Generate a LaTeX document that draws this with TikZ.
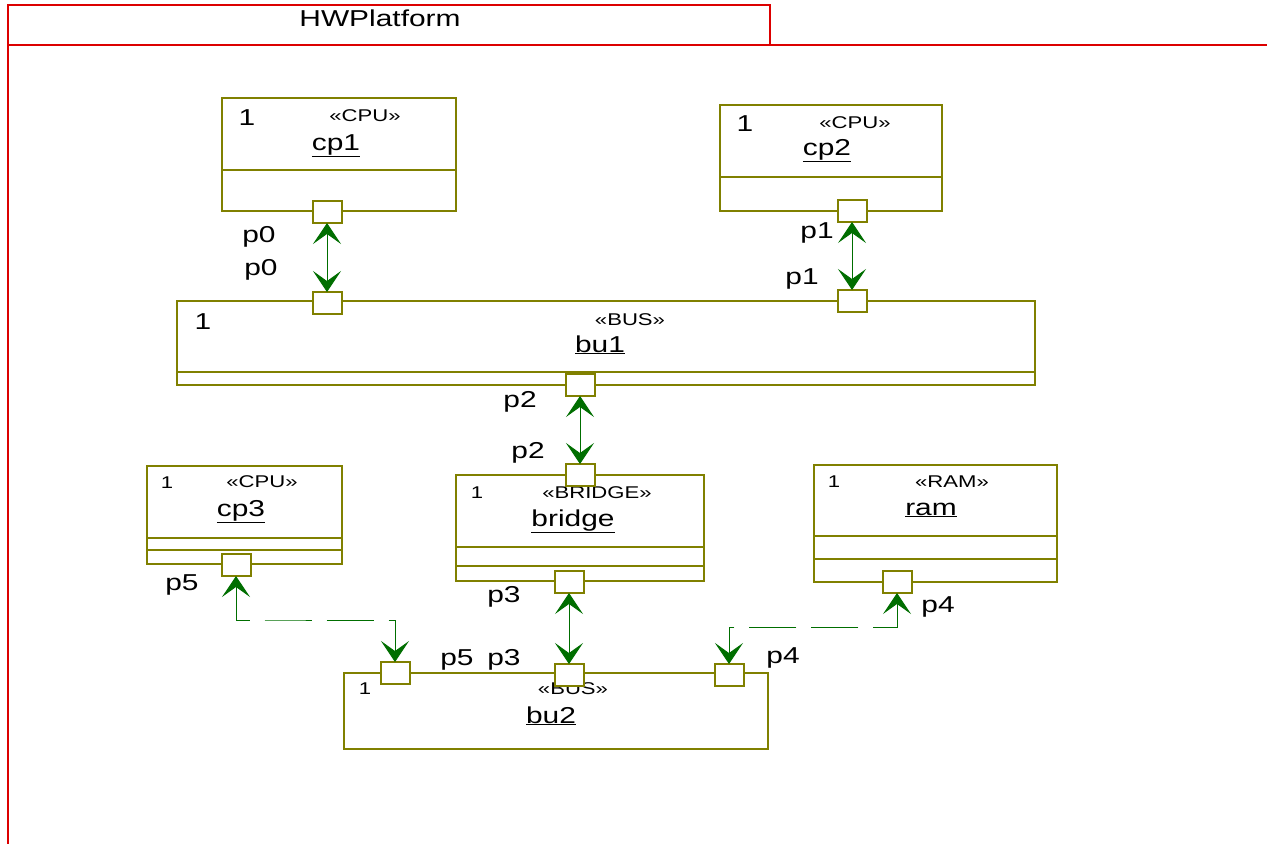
\documentclass[tikz,border=0pt]{standalone}
\usepackage{fontspec}
\setmainfont{Liberation Sans}[FakeStretch=1.3]
\usetikzlibrary{arrows.meta,calc}
\definecolor{boxc}{RGB}{128,128,0}
\definecolor{arrc}{RGB}{0,110,0}
\definecolor{framec}{RGB}{220,0,0}
\tikzset{
  box/.style={draw=boxc, line width=2pt, fill=white, inner sep=0pt, outer sep=0pt, anchor=north west},
  div/.style={draw=boxc, line width=1.5pt},
  port/.style={draw=boxc, line width=2pt, fill=white, minimum width=29pt, minimum height=22pt, inner sep=0pt, outer sep=0pt},
  tip/.tip={Stealth[length=21pt,width=28pt,inset=10pt]},
  link/.style={draw=arrc, line width=1pt, {tip}-{tip}},
  dashlink/.style={link, dash pattern=on 47pt off 15pt},
  framel/.style={draw=framec, line width=2pt},
  big/.style={anchor=base, inner sep=0pt, font=\fontsize{23pt}{23pt}\selectfont},
  small/.style={anchor=base, inner sep=0pt, font=\fontsize{17pt}{17pt}\selectfont},
  title/.style={anchor=base, inner sep=0pt, font=\fontsize{23pt}{23pt}\selectfont},
}
\begin{document}
\begin{tikzpicture}[x=1pt,y=-1pt]
\useasboundingbox (0,0) rectangle (1267,844);
% frame
\node[draw=framec, line width=2pt, inner sep=0pt, outer sep=0pt, anchor=north west, minimum width=762pt, minimum height=40pt] (hdr) at (8,5) {};
\draw[framel] (hdr.south west) -- (1267,45);
\draw[framel] (hdr.north west) -- (8,844);
\node[title] (ttl) at (380,26) {HWPlatform};

% boxes
\node[box, minimum width=234pt, minimum height=113pt] (cp1) at (222,98) {};
\draw[div] ($(cp1.north west)+(0,72)$) -- ($(cp1.north east)+(0,72)$);
\node[box, minimum width=222pt, minimum height=106pt] (cp2) at (720,105) {};
\draw[div] ($(cp2.north west)+(0,72)$) -- ($(cp2.north east)+(0,72)$);
\node[box, minimum width=858pt, minimum height=84pt] (bu1) at (177,301) {};
\draw[div] ($(bu1.north west)+(0,71)$) -- ($(bu1.north east)+(0,71)$);
\node[box, minimum width=195pt, minimum height=98pt] (cp3) at (147,466) {};
\draw[div] ($(cp3.north west)+(0,72)$) -- ($(cp3.north east)+(0,72)$);
\draw[div] ($(cp3.north west)+(0,84)$) -- ($(cp3.north east)+(0,84)$);
\node[box, minimum width=248pt, minimum height=106pt] (bridge) at (456,475) {};
\draw[div] ($(bridge.north west)+(0,72)$) -- ($(bridge.north east)+(0,72)$);
\draw[div] ($(bridge.north west)+(0,91)$) -- ($(bridge.north east)+(0,91)$);
\node[box, minimum width=243pt, minimum height=117pt] (ram) at (814,465) {};
\draw[div] ($(ram.north west)+(0,71)$) -- ($(ram.north east)+(0,71)$);
\draw[div] ($(ram.north west)+(0,94)$) -- ($(ram.north east)+(0,94)$);
\node[box, minimum width=424pt, minimum height=76pt] (bu2) at (344,673) {};

% box texts
\node[big] (t1a) at (247,125) {1};
\node[small] (t1b) at (365,121) {«CPU»};
\node[big] (t1c) at (336,150) {\underline{cp1}};
\node[big] (t2a) at (745,131) {1};
\node[small] (t2b) at (855,128) {«CPU»};
\node[big] (t2c) at (827,155) {\underline{cp2}};
\node[big] (t3a) at (203,329) {1};
\node[small] (t3b) at (630,325) {«BUS»};
\node[big] (t3c) at (600,352) {\underline{bu1}};
\node[small] (t4a) at (167,488) {1};
\node[small] (t4b) at (262,487) {«CPU»};
\node[big] (t4c) at (241,516) {\underline{cp3}};
\node[small] (t6a) at (834,487) {1};
\node[small] (t6b) at (952,487) {«RAM»};
\node[big] (t6c) at (931,515) {\underline{ram}};

% ports
\node[port] (cp1p0) at (327,212) {};
\node[port] (bu1p0) at (327,303) {};
\node[port] (cp2p1) at (852,211) {};
\node[port] (bu1p1) at (852,301) {};
\node[port] (bu1p2) at (580,385) {};
\node[port] (brp3) at (569,582) {};
\node[port] (cp3p5) at (236,565) {};
\node[port] (ramp4) at (897,582) {};

% texts over which ports are drawn
\node[small] (t5a) at (477,498) {1};
\node[small] (t5b) at (597,498) {«BRIDGE»};
\node[big] (t5c) at (573,526) {\underline{bridge}};
\node[small] (t7a) at (365,694) {1};
\node[small] (t7b) at (573,694) {«BUS»};
\node[big] (t7c) at (551,723) {\underline{bu2}};
\node[port] (brp2) at (580,475) {};
\node[port] (bu2p5) at (395,673) {};
\node[port] (bu2p3) at (569,675) {};
\node[port] (bu2p4) at (729,675) {};

% port labels
\node[big] (l1) at (259,242) {p0};
\node[big] (l2) at (261,275) {p0};
\node[big] (l3) at (817,238) {p1};
\node[big] (l4) at (802,284) {p1};
\node[big] (l5) at (520,407) {p2};
\node[big] (l6) at (528,458) {p2};
\node[big] (l7) at (182,590) {p5};
\node[big] (l8) at (504,602) {p3};
\node[big] (l9) at (457,665) {p5};
\node[big] (l10) at (504,665) {p3};
\node[big] (l11) at (938,612) {p4};
\node[big] (l12) at (783,663) {p4};

% connectors
\draw[link] (cp1p0.south) -- (bu1p0.north);
\draw[link] (cp2p1.south) -- (bu1p1.north);
\draw[link] (bu1p2.south) -- (brp2.north);
\draw[link] (brp3.south) -- (bu2p3.north);
\coordinate (c5) at (300,620);
\draw[dashlink] (cp3p5.south) |- (c5) -| (bu2p5.north);
\coordinate (c4) at (800,627);
\draw[dashlink] (ramp4.south) |- (c4) -| (bu2p4.north);
\end{tikzpicture}
\end{document}
